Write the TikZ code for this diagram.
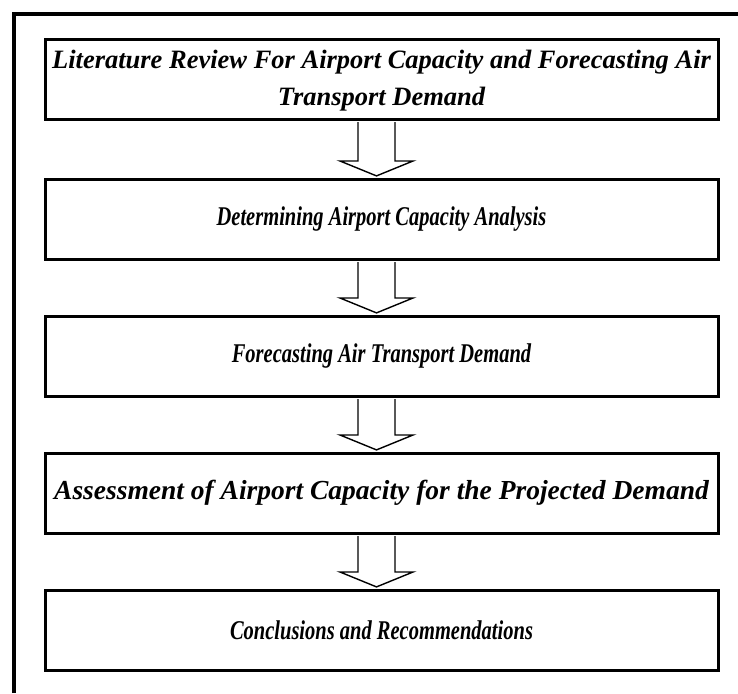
\documentclass[tikz,border=0pt]{standalone}
\usepackage{fontspec}
\setmainfont{Liberation Serif}
\usetikzlibrary{calc}
\tikzset{
  stagebox/.style={draw, line width=3pt, minimum width=673pt, inner sep=0pt,
    font=\fontsize{20.5}{25}\selectfont\bfseries\itshape, align=center},
  blockarrow/.style={draw, line width=1.4pt, fill=white, line join=miter},
  frameline/.style={line width=3.5pt}
}
\newcommand{\tallstr}[1]{\scalebox{1}[1.32]{#1}}
\newcommand{\flowarrow}[2]{%
  \draw[blockarrow] ($(#1.south)+(-23.5,1.6)$) -- ($(#2.north)+(-23.5,-16.5)$) -- ($(#2.north)+(-41.5,-16.5)$)
    -- ($(#2.north)+(-5,-1.6)$) -- ($(#2.north)+(31.5,-16.5)$) -- ($(#2.north)+(13.5,-16.5)$)
    -- ($(#1.south)+(13.5,1.6)$);}
\begin{document}
\begin{tikzpicture}[x=1pt,y=-1pt]
\useasboundingbox (0,0) rectangle (738,693);
\draw[frameline] (14,693) -- (14,14) -- (738,14);
\node[stagebox, minimum height=79pt] (b1) at (381.5,79.5)
  {\fontsize{26.5}{37}\selectfont\raisebox{-7pt}{\begin{tabular}{@{}c@{}}Literature Review For Airport Capacity and Forecasting Air\\Transport Demand\end{tabular}}};
\node[stagebox, minimum height=80pt] (b2) at (381.5,219) {\tallstr{Determining Airport Capacity Analysis}};
\node[stagebox, minimum height=80pt] (b3) at (381.5,356) {\tallstr{Forecasting Air Transport Demand}};
\node[stagebox, minimum height=80pt] (b4) at (381.5,493) {\fontsize{27.5}{30}\selectfont Assessment of Airport Capacity for the Projected Demand};
\node[stagebox, minimum height=80pt] (b5) at (381.5,630) {\tallstr{Conclusions and Recommendations}};
\flowarrow{b1}{b2}
\flowarrow{b2}{b3}
\flowarrow{b3}{b4}
\flowarrow{b4}{b5}
\end{tikzpicture}
\end{document}
